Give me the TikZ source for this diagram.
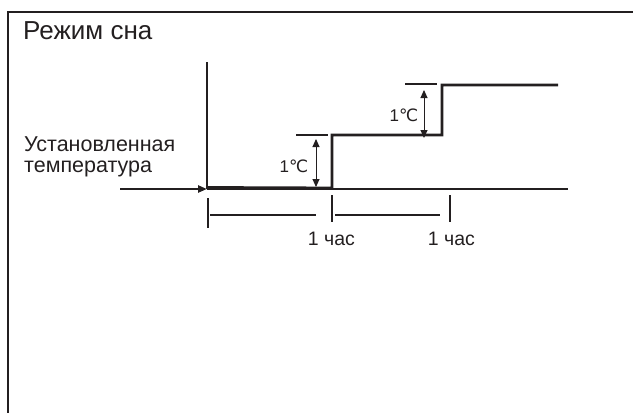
\documentclass[tikz,border=0pt]{standalone}
\usepackage{fontspec}
\setmainfont{Liberation Sans}
\newfontfamily\symfont{DejaVu Sans}
\usetikzlibrary{arrows.meta, positioning, calc}
\definecolor{inkgray}{RGB}{35,31,32}
\tikzset{
  frame/.style={draw=inkgray, line width=2pt},
  curve/.style={draw=inkgray, line width=2.8pt},
  tickline/.style={draw=inkgray, line width=2.4pt},
  refline/.style={draw=inkgray, line width=2.4pt},
  inarrow/.style={-{Triangle[length=9pt,width=7pt]}, draw=inkgray, line width=2.6pt},
  dim/.style={{Triangle[length=8pt,width=7pt]}-{Triangle[length=8pt,width=7pt]}, draw=inkgray, line width=0.9pt},
  ttl/.style={font=\fontsize{26}{31}\selectfont, text=inkgray, inner sep=0pt, anchor=west},
  lbl/.style={font=\fontsize{19.5}{21}\selectfont, text=inkgray, inner sep=0pt, align=left},
  dlbl/.style={font=\fontsize{17}{20}\selectfont, text=inkgray, inner sep=0pt}
}
\begin{document}
\begin{tikzpicture}[x=1pt, y=-1pt]
  \useasboundingbox (0,0) rectangle (633,413);
  % frame
  \draw[frame] (8,413) -- (8,12) -- (633,12);
  \node[ttl] (title) at (23,31) {Режим сна};
  % axes
  \coordinate (top) at (207,62);
  \coordinate (org) at (207,189);
  \coordinate (in) at (120,189);
  \coordinate (end) at (568,189);
  \node[lbl, font=\fontsize{21.5}{21}\selectfont, anchor=south west] (set) at (24,177.5) {Установленная\\температура};
  \draw[curve] (top) -- (org);
  \draw[inarrow] (in) -- (org);
  \draw[curve] (org) -- (end);
  % steps
  \coordinate (s1) at (332,188);
  \coordinate (s2) at (442,135);
  \draw[curve] (207,187.5) -- (s1) -- (s1 |- s2) -- (s2) -- (442,85) -- (558,85);
  \draw[refline] (296,135) -- (328,135);
  \draw[refline] (405,84) -- (437,84);
  % 1 degree steps
  \draw[dim] (316,139) -- (316,187);
  \draw[dim] (424,90) -- (424,138);
  \node[dlbl] (d1) at (294,166) {1{\symfont ℃}};
  \node[dlbl] (d2) at (404,115) {1{\symfont ℃}};
  % time marks
  \draw[tickline] (208,198) -- (208,228);
  \draw[tickline] (332,195) -- (332,222);
  \draw[tickline] (450,195) -- (450,222);
  \draw[refline] (210,215) -- (316,215);
  \draw[refline] (335,215) -- (440,215);
  \node[lbl] (h1) at (331.5,239) {1 час};
  \node[lbl] (h2) at (451.5,239) {1 час};
\end{tikzpicture}
\end{document}
